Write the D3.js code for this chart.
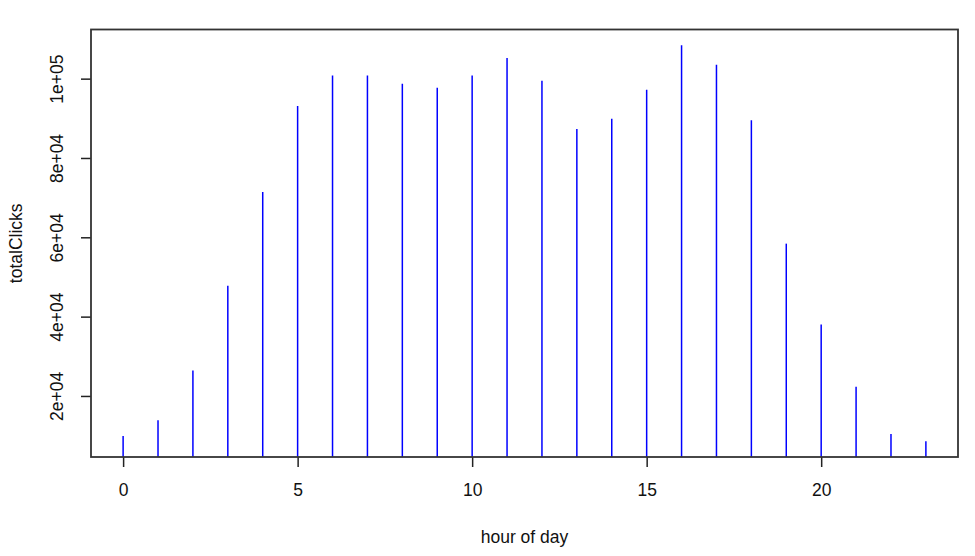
<!DOCTYPE html>
<html>
<head>
<meta charset="utf-8">
<script src="https://cdn.jsdelivr.net/npm/d3@7"></script>
<style>
  html, body { margin: 0; padding: 0; background: #fff; }
  svg { display: block; }
  text { font-family: "Liberation Sans", Arial, sans-serif; fill: #111; }
</style>
</head>
<body>
<svg id="chart" width="975" height="556"></svg>
<script>
// Data
const hours = [0,1,2,3,4,5,6,7,8,9,10,11,12,13,14,15,16,17,18,19,20,21,22,23];
const totalClicks = [9900,13900,26400,47800,71400,93100,100800,100800,98700,97700,100800,105200,
                     99500,87300,89900,97200,108400,103500,89500,58400,38000,22300,10400,8600];
const xTicks = [0,5,10,15,20];
const yTicks = [20000,40000,60000,80000,100000];
const yTickLabels = ["2e+04","4e+04","6e+04","8e+04","1e+05"];
const xLabel = "hour of day";
const yLabel = "totalClicks";

const svg = d3.select("#chart");
const box = {left: 91, right: 958, top: 29.5, bottom: 457};

// R-style 4% extended ranges
function extend(ext) { const d = (ext[1]-ext[0])*0.04; return [ext[0]-d, ext[1]+d]; }
const x = d3.scaleLinear().domain(extend(d3.extent(hours))).range([box.left, box.right]);
const y = d3.scaleLinear().domain(extend(d3.extent(totalClicks))).range([box.bottom, box.top]);

// bars (type = "h")
svg.append("g").selectAll("line").data(hours).join("line")
  .attr("x1", d => x(d)).attr("x2", d => x(d))
  .attr("y1", (d,i) => y(totalClicks[i]))
  .attr("y2", box.bottom)
  .attr("stroke", "#0000ff").attr("stroke-width", 1.5);

// x axis
const xAxis = d3.axisBottom(x).tickValues(xTicks).tickFormat(d3.format("d")).tickSize(10).tickPadding(17);
const gx = svg.append("g").attr("transform", `translate(0,${box.bottom})`).call(xAxis);
gx.select(".domain").remove();
gx.selectAll(".tick line").attr("stroke", "#222").attr("stroke-width", 1.5);
gx.selectAll(".tick text").attr("font-size", 17.5).attr("fill", "#111")
  .attr("font-family", "Liberation Sans, Arial, sans-serif");

// y axis
const yAxis = d3.axisLeft(y).tickValues(yTicks).tickFormat((d,i) => yTickLabels[i]).tickSize(10).tickPadding(0);
const gy = svg.append("g").attr("transform", `translate(${box.left},0)`).call(yAxis);
gy.select(".domain").remove();
gy.selectAll(".tick line").attr("stroke", "#222").attr("stroke-width", 1.5);
gy.selectAll(".tick text")
  .attr("font-size", 17.5).attr("fill", "#111")
  .attr("font-family", "Liberation Sans, Arial, sans-serif")
  .attr("text-anchor", "middle")
  .attr("dy", null)
  .attr("x", null)
  .attr("transform", "translate(-34,0) rotate(-90)")
  .attr("dominant-baseline", "central");

// box
svg.append("rect")
  .attr("x", box.left).attr("y", box.top)
  .attr("width", box.right - box.left).attr("height", box.bottom - box.top)
  .attr("fill", "none").attr("stroke", "#333").attr("stroke-width", 1.8);

// axis titles
svg.append("text").attr("x", (box.left + box.right)/2).attr("y", 537)
  .attr("text-anchor", "middle").attr("dominant-baseline", "central")
  .attr("font-size", 17.5).text(xLabel);
svg.append("text")
  .attr("transform", `translate(16,${(box.top + box.bottom)/2}) rotate(-90)`)
  .attr("text-anchor", "middle").attr("dominant-baseline", "central")
  .attr("font-size", 17.5).text(yLabel);
</script>
</body>
</html>
